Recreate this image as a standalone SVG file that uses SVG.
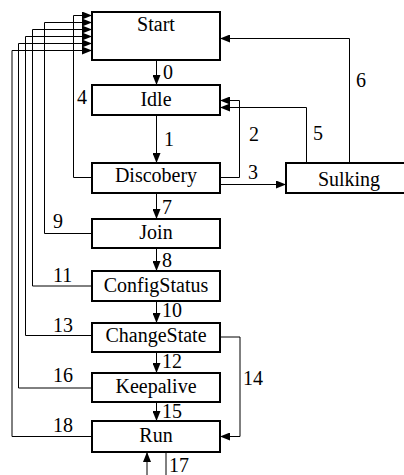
<svg xmlns="http://www.w3.org/2000/svg" width="404" height="475" viewBox="0 0 404 475">
<defs>
<marker id="a" viewBox="0 0 10 8" refX="10" refY="4" markerWidth="10" markerHeight="8" markerUnits="userSpaceOnUse" orient="auto">
<path d="M0,0 L10,4 L0,8 Z" fill="#000"/>
</marker>
</defs>
<rect width="404" height="475" fill="#fff"/>
<g id="connectors" fill="none" stroke="#000" stroke-width="1">
<path d="M156.5,60 V85" marker-end="url(#a)"/>
<path d="M156.5,115 V163" marker-end="url(#a)"/>
<path d="M156.5,193 V219" marker-end="url(#a)"/>
<path d="M156.5,248 V271" marker-end="url(#a)"/>
<path d="M156.5,301 V323" marker-end="url(#a)"/>
<path d="M156.5,352 V373" marker-end="url(#a)"/>
<path d="M156.5,402 V421" marker-end="url(#a)"/>
<path d="M92,177.5 H73.5 V15.5 H92" marker-end="url(#a)"/>
<path d="M92,233.5 H44.5 V22.5 H92" marker-end="url(#a)"/>
<path d="M92,286 H32.5 V29.5 H92" marker-end="url(#a)"/>
<path d="M92,335.5 H25.5 V36.5 H92" marker-end="url(#a)"/>
<path d="M92,388 H18.5 V43.5 H92" marker-end="url(#a)"/>
<path d="M92,436.5 H12 V50.5 H92" marker-end="url(#a)"/>
<path d="M220,177.5 H239.5 V100.5 H220" marker-end="url(#a)"/>
<path d="M220,184.5 H286" marker-end="url(#a)"/>
<path d="M306.5,163 V107.5 H220" marker-end="url(#a)"/>
<path d="M349.5,163 V38.5 H220" marker-end="url(#a)"/>
<path d="M220,337 H240 V436.5 H220" marker-end="url(#a)"/>
<path d="M147,475 V452" marker-end="url(#a)"/>
<path d="M166,452 V475"/>
</g>
<g id="nodes" font-family="Liberation Serif" font-size="20" text-anchor="middle">
<g id="start"><rect x="92" y="12" width="128" height="48" fill="#fff" stroke="#000" stroke-width="2"/><text x="156" y="31">Start</text></g>
<g id="idle"><rect x="92" y="85" width="128" height="30" fill="#fff" stroke="#000" stroke-width="2"/><text x="156" y="106">Idle</text></g>
<g id="discobery"><rect x="92" y="163" width="128" height="30" fill="#fff" stroke="#000" stroke-width="2"/><text x="156" y="182">Discobery</text></g>
<g id="join"><rect x="92" y="219" width="128" height="29" fill="#fff" stroke="#000" stroke-width="2"/><text x="156" y="239">Join</text></g>
<g id="configstatus"><rect x="92" y="271" width="128" height="30" fill="#fff" stroke="#000" stroke-width="2"/><text x="156" y="292">ConfigStatus</text></g>
<g id="changestate"><rect x="92" y="323" width="128" height="29" fill="#fff" stroke="#000" stroke-width="2"/><text x="156" y="342">ChangeState</text></g>
<g id="keepalive"><rect x="92" y="373" width="128" height="29" fill="#fff" stroke="#000" stroke-width="2"/><text x="156" y="393">Keepalive</text></g>
<g id="run"><rect x="92" y="421" width="128" height="31" fill="#fff" stroke="#000" stroke-width="2"/><text x="156" y="442">Run</text></g>
<g id="sulking"><rect x="286" y="163" width="126" height="30" fill="#fff" stroke="#000" stroke-width="2"/><text x="349" y="186">Sulking</text></g>
</g>
<g id="labels" font-family="Liberation Serif" font-size="20">
<text x="163" y="79">0</text>
<text x="164" y="146">1</text>
<text x="77" y="104">4</text>
<text x="249" y="141">2</text>
<text x="248" y="179">3</text>
<text x="313" y="140">5</text>
<text x="356" y="87">6</text>
<text x="162" y="214">7</text>
<text x="53" y="228">9</text>
<text x="162" y="267">8</text>
<text x="53" y="282">11</text>
<text x="162" y="317">10</text>
<text x="53" y="332">13</text>
<text x="162" y="368">12</text>
<text x="243" y="385">14</text>
<text x="53" y="382">16</text>
<text x="162" y="418">15</text>
<text x="53" y="432">18</text>
<text x="169" y="472">17</text>
</g>
</svg>
